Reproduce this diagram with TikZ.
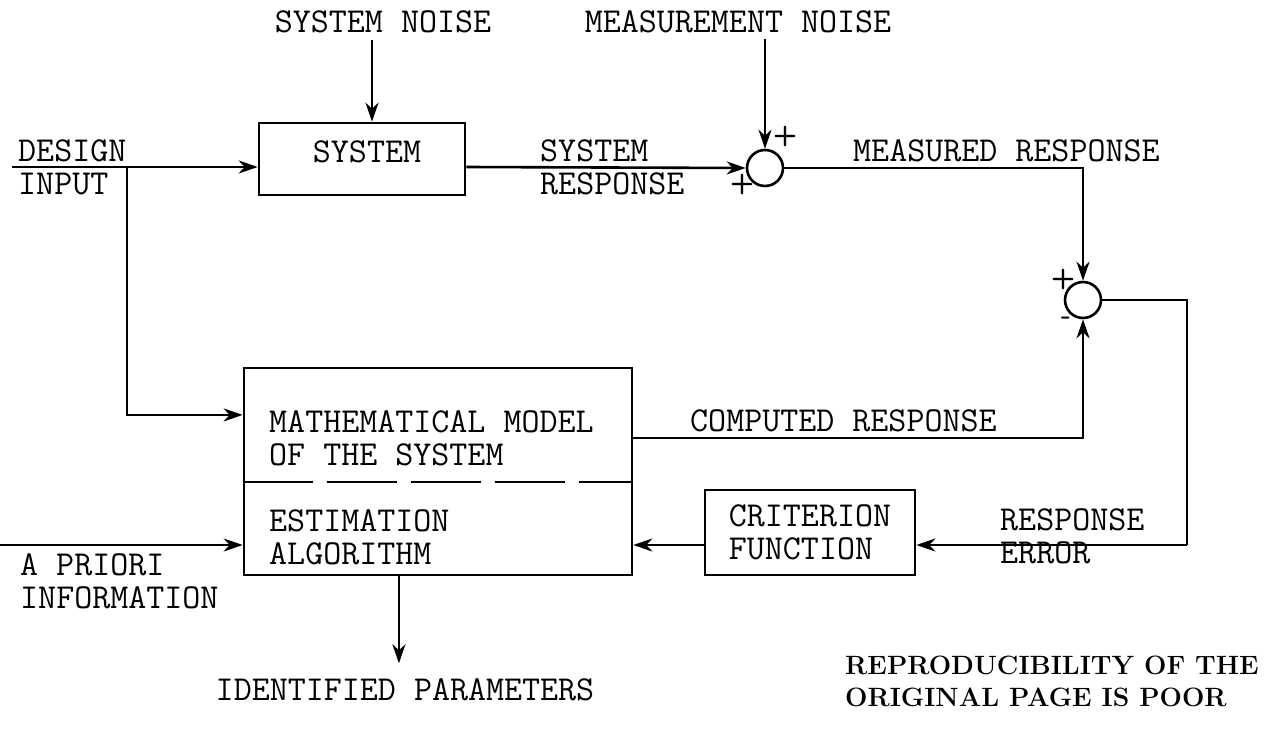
\documentclass[tikz,border=0pt]{standalone}
\usepackage{fontspec}
\usetikzlibrary{arrows.meta,calc}

\tikzset{
  sig/.style={line width=2.6pt,-{Stealth[length=19pt,width=13pt,inset=6pt]}},
  wire/.style={line width=2.6pt},
  blockbox/.style={draw,line width=2.6pt,inner sep=0pt},
  sumnode/.style={draw,circle,line width=2.6pt,minimum size=36pt,inner sep=0pt},
  lbl/.style={font=\ttfamily\fontsize{35}{33}\selectfont,inner sep=0pt,align=left},
  sgn/.style={font=\sffamily\bfseries\fontsize{28}{28}\selectfont,inner sep=0pt},
  note/.style={font=\rmfamily\bfseries\fontsize{26.5}{32}\selectfont,inner sep=0pt,align=left}
}

\begin{document}
\begin{tikzpicture}[x=1pt,y=-1pt]
\useasboundingbox (0,0) rectangle (1265,736);

% blocks
\node[blockbox,minimum width=206pt,minimum height=72pt] (sys) at (362,159) {};
\node[lbl] at (367,152) {SYSTEM};
\node[sumnode] (sum1) at (765,168) {};
\node[sumnode] (sum2) at (1083,300) {};
\node[blockbox,minimum width=388pt,minimum height=207pt] (model) at (438,471.5) {};
\node[blockbox,minimum width=210pt,minimum height=85pt] (crit) at (810,532.5) {};
\node[lbl] at (crit) {CRITERION\\FUNCTION};

% divider of the model box
\draw[wire,dash pattern=on 70pt off 14pt]
  ($(model.north west)!0.55!(model.south west)$) -- ($(model.north east)!0.55!(model.south east)$);
\node[lbl,anchor=west] (mathmod) at (269,438) {MATHEMATICAL MODEL\\OF THE SYSTEM};
\node[lbl,anchor=west] (estalg) at (269,537) {ESTIMATION\\ALGORITHM};

% texts
\node[lbl] (sysnoise) at (383,22) {SYSTEM NOISE};
\node[lbl] (measnoise) at (738,22) {MEASUREMENT NOISE};
\node[lbl,anchor=west] (desin) at (18,167) {DESIGN\\INPUT};
\node[lbl,anchor=west] (sysresp) at (540,167) {SYSTEM\\RESPONSE};
\node[lbl,anchor=south west] (measresp) at (853,162) {MEASURED RESPONSE};
\node[lbl,anchor=south west] (compresp) at (690,432) {COMPUTED RESPONSE};
\node[lbl,anchor=west] (resperr) at (1000,536) {RESPONSE\\ERROR};
\node[lbl,anchor=north west] (apriori) at (20,553) {A PRIORI\\INFORMATION};
\node[lbl] (idpar) at (405,690) {IDENTIFIED PARAMETERS};
\node[note,anchor=west] (poor) at (845,681) {REPRODUCIBILITY OF THE\\ORIGINAL PAGE IS POOR};

% signs
\node[sgn] at (785,136) {+};
\node[sgn] at (742,184) {+};
\node[sgn] at (1063,279) {+};
\node[sgn] at (1066,321) {-};

% helper points
\coordinate (din) at (12,167);
\coordinate (branch) at (127,167);
\coordinate (sn) at (372,40);
\coordinate (errline) at (1187,545);
\coordinate (apin) at (0,545);

% connectors
\draw[sig] (din) -- (din -| sys.west);
\draw[sig] (sn) -- (sn |- sys.north);
\draw[sig] (sys.east |- din) -- (sum1.west);
\draw[sig] (sum1 |- measnoise.south) ++(0,6) -- (sum1.north);
\draw[sig] (sum1.east) -| (sum2.north);
\draw[wire] (sum2.east) -| (errline);
\draw[sig] (errline) -- (errline -| crit.east);
\draw[sig] (crit.west |- errline) -- (model.east |- errline);
\draw[sig] (branch) |- ($(model.north west)!0.23!(model.south west)$);
\draw[sig] (apin) -- (apin -| model.west);
\draw[sig] ($(model.north east)!0.34!(model.south east)$) -| (sum2.south);
\draw[sig] ($(model.south west)!0.40!(model.south east)$) -- ++(0,87);
\end{tikzpicture}
\end{document}
